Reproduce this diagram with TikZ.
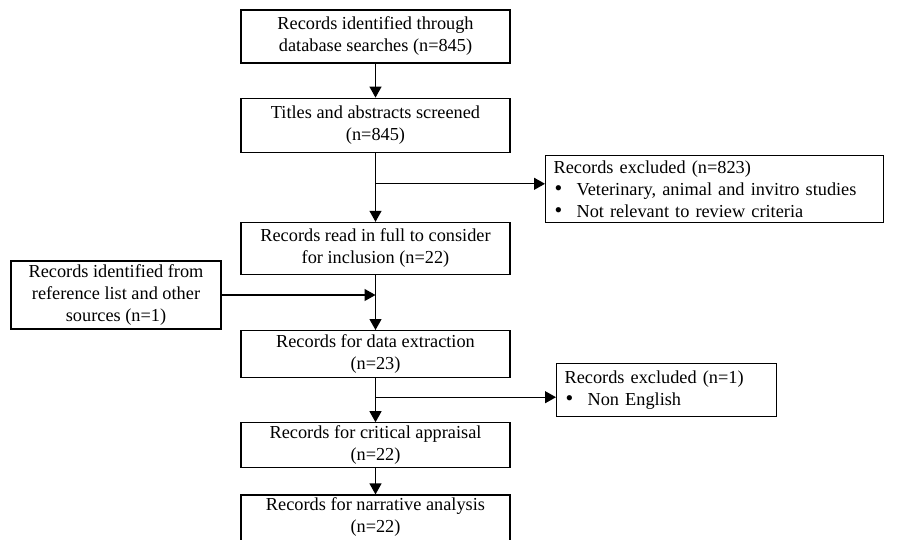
\documentclass[tikz,border=0pt]{standalone}
\usepackage{fontspec}
\setmainfont{Liberation Serif}
\usetikzlibrary{positioning,arrows.meta,calc}
\tikzstyle{stage} = [draw, rectangle, line width=1.2pt, text centered, align=center, minimum width=269pt, minimum height=52pt, inner sep=2pt]
\tikzstyle{source} = [draw, rectangle, line width=1.2pt, text centered, align=center, minimum width=210pt, minimum height=68pt, inner sep=2pt]
\tikzstyle{excluded} = [draw, rectangle, line width=1.2pt, align=left, inner xsep=8pt, inner ysep=3pt, anchor=north west]
\tikzstyle{line} = [draw, line width=1.2pt, -{Triangle[length=11pt,width=12pt]}]
\newcommand{\bul}{\makebox[23pt][l]{\hspace{1pt}\smash{\fontsize{22}{22}\selectfont\textbullet}}}

\begin{document}
\begin{tikzpicture}[x=1pt, y=1pt, node distance=34pt, font=\fontsize{18.3}{22}\selectfont]
    \useasboundingbox (0,0) rectangle (904,-539);

    % Place nodes
    \node [stage, minimum height=53pt] (db) at (375.5,-36.5) {Records identified through\\database searches (n=845)};
    \node [stage, minimum height=54pt, below=34pt of db] (titles) {Titles and abstracts screened\\(n=845)};
    \node [stage, below=69pt of titles] (read) {Records read in full to consider\\for inclusion (n=22)};
    \node [stage, minimum height=47pt, below=55pt of read] (extract) {Records for data extraction\\(n=23)};
    \node [stage, minimum height=45pt, below=44pt of extract] (critical) {Records for critical appraisal\\(n=22)};
    \node [stage, minimum height=53pt, text depth=13pt, below=26pt of critical] (narrative) {Records for narrative analysis\\(n=22)};
    \node [source] (refl) at (116,-295) {Records identified from\\reference list and other\\sources (n=1)};
    \node [excluded, text width=322pt, minimum height=67pt] (excl1) at (545,-155) {Records excluded (n=823)\\\bul Veterinary, animal and invitro studies\\\bul Not relevant to review criteria};
    \node [excluded, text width=204pt, minimum height=53pt] (excl2) at (556,-363) {Records excluded (n=1)\\\bul Non English};
    % Branch points
    \coordinate (b1) at ($(titles.south)+(0,-31)$);
    \coordinate (b2) at ($(extract.south)+(0,-19)$);

    % Draw edges
    \path [line] (db) -- (titles);
    \path [line] (titles) -- (read);
    \path [line] (b1) -- (b1 -| excl1.west);
    \path [line] (read) -- (extract);
    \path [line] (refl.east) -- (refl.east -| read.south);
    \path [line] (extract) -- (critical);
    \path [line] (b2) -- (b2 -| excl2.west);
    \path [line] (critical) -- (narrative);
\end{tikzpicture}
\end{document}
